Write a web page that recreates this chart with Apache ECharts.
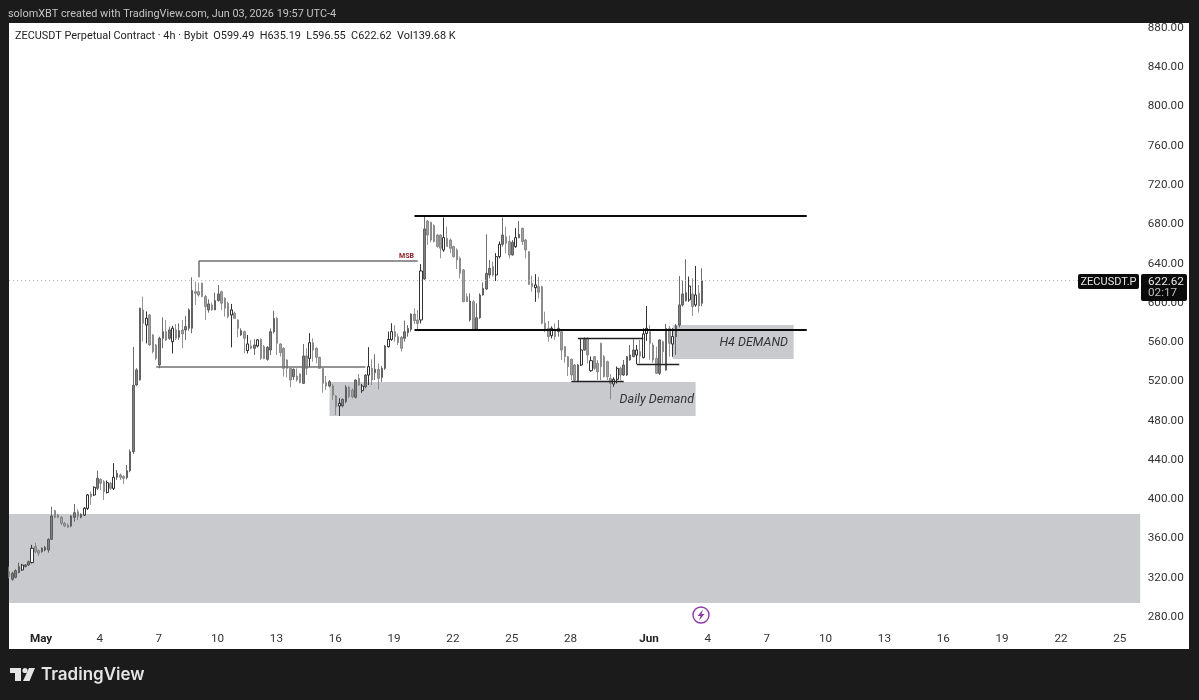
<!DOCTYPE html>
<html><head><meta charset="utf-8">
<style>html,body{margin:0;padding:0;background:#1b1b1b}#c{width:1199px;height:700px}</style>
<script src="https://cdn.jsdelivr.net/npm/echarts@6/dist/echarts.min.js"></script>
</head><body><div id="c"></div>
<script>
const openP=[326.2,318.4,320.4,325.2,332.9,331.3,333,335.4,351.7,347.6,346.6,348.3,348.3,359.1,388.3,384,381.5,375.4,373.7,372.7,381.5,387.3,381.5,383.9,390.7,405.3,404.3,411.1,420.2,417.9,406.7,416.2,411.1,422.3,424.6,423,421.9,429.1,448.4,
516.4,521.5,592.8,577.5,587.7,567.3,557.1,536.8,563.9,570.7,563.9,560.5,572.4,564.9,572.4,572.4,574.1,574.1,611.4,611.4,619.9,606.4,592.8,597.9,592.8,602.3,611.4,604.7,599.6,587.7,589.4,582.6,567.3,570.7,551.4,556.1,553.7,556.1,
562.8,555.4,542.5,552,570.6,584.2,558.1,553.7,541.8,533.3,524.8,525.5,527.5,518,545.9,543.5,559.4,553.7,544.5,533.3,518.7,515.3,515.3,505.1,495,495,499.4,514,511.2,503.8,523.1,515.3,514.6,526.5,533.3,528.9,532.3,524.1,533.3,555.4,562.8,570.6,565.6,564.9,563.9,569.6,573,588.6,582.5,
582.6,624.3,683.4,682,678.7,669.1,669.1,653.9,665.7,664,657.3,653.9,645.4,633.5,606.3,582.6,601.2,573.4,584.9,608,614.1,628.4,636.9,628.4,647.1,659.6,667.4,662.4,648.8,657.3,666.4,675.9,664,652.2,619.9,615.5,616.5,616.5,579.2,574.1,566.6,572.4,570.7,
570.6,555.4,545.2,542.5,536.7,520.7,536.7,552,563.9,530.9,545.2,538.4,558.8,545.2,540.1,523.1,517.3,522.1,533.3,526.5,526.5,541.8,545.2,552,550.3,544.5,568.9,570.6,557.1,543.5,528.2,560.5,531.6,574,558.1,565.6,577.4,
597.9,602.3,617.2,609.1,597.9,609.8,599.49];
const closeP=[321.1,324.5,327.2,331.3,327.9,333,336.4,350,346.6,344.9,350,351,359.1,382.9,381.5,381.5,375.4,372.7,371.4,382.9,386.3,382.2,384.6,390.7,404.3,402.6,412.1,421.3,416.2,407.7,416.8,411.1,422.3,426.3,422.3,421.3,429.1,448.4,516,
531.7,594.5,579.2,584.3,557.1,550.3,543.5,563.9,570.7,562.2,572.4,574.1,563.9,571.7,568.3,575.8,592.8,612.5,609.8,608,606.4,596.2,598.9,592.8,602.3,609.1,599.6,594.5,586,592.8,584.3,574.1,571.7,563.9,558.1,553.7,557.1,562.2,
543.5,543.5,554.7,570.6,584.2,558.8,549.3,533.3,533.3,521.4,532.3,521.4,518.7,545.9,533.3,559.4,552,544.5,533.3,518,515.3,519.7,506.1,494.3,497.7,501.7,514,504.4,504.4,521.4,516.3,510.6,526.5,535,521.4,532.3,523.1,533.3,556,562.8,570.6,565.6,559.4,553.7,570.6,574,588.6,581.9,579.1,
632.5,675.3,669.1,664,662.4,657.3,655.6,666.4,657.3,655.6,647.1,643.7,630.1,601.2,601.2,601.9,572.4,584.9,608,614.8,630.1,635.2,628.4,647.1,659.6,669.1,660.7,648.8,661.7,666.4,669.8,662.4,653.9,618.9,616.5,618.2,610.8,579.2,572.4,565.6,574.1,565.6,574.1,
552,545.2,535,526.5,521.4,536.7,552,562.8,546.9,541.1,533.3,529.9,535,524.8,524.8,518,522.1,533.3,526.5,536.7,545.2,546.9,552,546.9,545.9,568.3,574,558.8,541.8,528.2,562.2,550.3,574,558.8,565.6,576.4,597.9,
609.1,610.4,603,596.2,608,596.9,622.62];
const lowP=[319.4,317,319.4,324.5,327.2,330.6,332,334.7,344.9,342.2,345.5,346.9,345.5,358.5,380.5,380.5,373.7,371.4,370.7,371.4,377.1,378.8,380.5,382.9,389,394.1,403.3,409.4,409.4,399.2,406,409.4,409.4,419.6,419.6,415.5,420.2,427.4,446,
515.4,520.8,560.5,558.8,556.1,548.6,541.8,533.4,553.7,561.2,562.2,548.6,562.2,562.2,553.7,562.2,571.7,569,597.9,606.4,605.7,582.6,590,592.1,592.8,601.3,592.8,586,584.3,554.8,583.3,564.9,566.3,548.6,548.6,552.7,546.9,554.8,
541.8,542.5,541.1,546.9,568.9,546.9,545.2,524.8,524.1,513.9,521.4,519.7,518,517.3,526.5,535,540.1,538.4,533.3,508.5,511.2,513.9,501,485.8,484.8,493.6,497.7,502.7,502.7,502.7,515.3,508.5,512.9,516.3,516.3,521.4,511.9,519.7,531.6,554.7,561.5,560.5,557.1,550.3,560.5,565.6,570.6,578.5,573,
579.2,623.3,659,661.7,661.7,656.2,645.4,652.2,657.3,650.5,646,634.5,625,600.6,601.2,580.9,572.4,572.4,583.6,607.4,613.1,625,626.7,622.3,645.4,657.3,650.5,645.4,648.1,656.2,665.7,659,645.4,618.2,611.4,601.2,604.6,578.2,570,560.5,563.9,562.2,565.6,
541.8,539,525.5,521.4,519.7,519.7,535.7,551.3,538.4,529.9,531.6,521.4,521.4,524.1,521.4,501.7,514.6,518,521.4,525.5,525.5,541.1,544.5,537.7,538.4,543.5,561.5,541.8,539,527.5,526.5,538.4,530.9,545.2,545.2,546.9,575.1,
596.2,601.3,601.3,586.7,596.2,590.1,596.55];
const highP=[331.3,326.2,328.6,335.4,334,334,337.4,353.4,355.7,349,351,352.3,360.1,392.4,389,385,382.9,377,375.4,383.6,395.1,389.7,385.6,391.7,405.3,407.7,412.8,429.1,421.3,419.6,418.9,417.9,436.5,429.7,426.3,424.6,434.8,450.8,555,
533.4,595.1,606.4,591.1,588.7,568.3,558.1,565.6,585.3,582.6,575.8,576.5,578.5,579.2,582.6,586.7,594.5,626,621.6,620.6,620.6,608,603.6,600.2,610.4,618.2,612.5,605.7,601.3,598.9,591.1,583.3,574.1,571.7,567.3,562.2,562.9,562.9,
563.8,557.1,556,574,592,585.9,558.8,554.7,542.5,534,533.3,533.3,528.2,558.1,553.7,568.9,563.9,554.7,545.2,534,525.5,521.4,517.3,506.1,502.7,502.7,516.3,515.3,512.9,522.1,527.5,517.3,527.5,554.7,542.5,547.6,538.4,535.7,557.1,570.6,579.1,577.4,568.9,566.2,581.9,577.4,589.3,594.4,592.7,
639.3,687.8,684.4,682.7,680,669.8,669.8,686.8,677.6,665.7,658.3,655.6,647.1,634.5,609.7,609.7,602.9,599.5,609.7,620.9,669.8,643.7,642,650.5,662.4,686.8,677.6,668.5,664,675.9,683.4,676.6,665,652.8,627.7,629.1,626.7,617.5,591,581.6,575.8,579.2,582.6,
571.7,556,545.9,543.5,537.7,537.7,563.9,564.9,564.9,545.2,545.9,541.8,559.4,546.9,541.1,527.5,524.1,535,535,541.8,545.9,557.1,562.8,557.1,562.2,574,596.8,577.4,559.4,555.4,562.8,561.5,578.5,576.4,574,578.5,627.4,
622.7,644.4,626.7,625,637.6,618.2,635.19];

const barCount=347;
const hollowIdx=[4,7,23,24,26,30,32,42,50,68,73,76,92,101,108,110,116,117,126,133,149,150,155,161,166,175,178,185,186,192,194,195,203,208,210];
const tickIdx=[9,27,45,63,81,99,117,135,153,171,195,213,231,249,267,285,303,321,339];
const tickLabels=['May','4','7','10','13','16','19','22','25','28','Jun','4','7','10','13','16','19','22','25'];
const boldTicks=['May','Jun'];
const lastPrice=622.62;
// zones: [x start index, x end index, upper price, lower price]
const zoneLow=[0,346,384.9,294.3];
const zoneDaily=[98,210,519.4,484.8];
const zoneH4=[203,240,577.5,542.8];
// lines: [x start index, x end index, price]
const strongLines=[[124,244,688.5],[124,244,572.4]];
const thinLines=[[174,194,564.2],[172,188,520.4],[192,205,537.7]];
const greyLines=[[58,125,642.6],[45,109,534.7]];
const msbStem=[58,642.6,626];

const categories=[];
for(let i=0;i<barCount;i++)categories.push('bar'+i);
const candles=openP.map((v,i)=>[v,closeP[i],lowP[i],highP[i]]);
const hollow=candles.map((c,i)=>hollowIdx.includes(i)?c:['-','-','-','-']);
const font='Roboto, Inter, sans-serif';
const seg=(a,b,p,style)=>[{xAxis:a,yAxis:p,lineStyle:style},{xAxis:b,yAxis:p}];
const strong={color:'#0a0a0a',width:2,type:'solid'};
const thin={color:'#222',width:1.4,type:'solid'};
const grey={color:'#6f6f6f',width:1.5,type:'solid'};
const dotted={color:'#b5b5b5',width:1,type:[1,3]};

const chart=echarts.init(document.getElementById('c'),null,{renderer:'canvas'});
chart.setOption({
 animation:false,
 backgroundColor:'#1b1b1b',
 grid:{left:7.5,width:1134.3,top:28,height:589,containLabel:false},
 xAxis:{type:'category',data:categories,boundaryGap:true,axisLine:{show:false},axisTick:{show:false},splitLine:{show:false},
  axisLabel:{margin:16,color:'#333',fontFamily:font,fontSize:11.7,hideOverlap:false,padding:[0,0,0,5],
   interval:(i)=>tickIdx.includes(i),
   formatter:(v,i)=>{const t=tickLabels[tickIdx.indexOf(i)];return boldTicks.includes(t)?'{b|'+t+'}':t;},
   rich:{b:{fontWeight:700,color:'#222',fontFamily:font,fontSize:11.7}}}},
 yAxis:{type:'value',position:'right',min:280,max:880,interval:40,axisLine:{show:false},axisTick:{show:false},splitLine:{show:false},
  axisLabel:{margin:6,color:'#333',fontFamily:font,fontSize:11.7,padding:[8,0,0,0],formatter:v=>v.toFixed(2)}},
 graphic:{elements:[
  {type:'rect',z:-100,silent:true,shape:{x:9,y:23,width:1180,height:626},style:{fill:'#fff'}},
  {type:'text',z:50,style:{x:8,y:14,text:'solomXBT created with TradingView.com, Jun 03, 2026 19:57 UTC-4',fill:'#c4c4c4',font:'10.9px '+font,textVerticalAlign:'middle'}},
  {type:'text',z:50,style:{x:15,y:36,text:'ZECUSDT Perpetual Contract · 4h · Bybit  O599.49  H635.19  L596.55  C622.62  Vol139.68 K',fill:'#222',font:'10.9px '+font,textVerticalAlign:'middle'}},
  {type:'text',z:50,style:{x:788,y:343,text:'H4 DEMAND',fill:'#333',font:'italic 12.5px '+font,textAlign:'right',textVerticalAlign:'middle'}},
  {type:'text',z:50,style:{x:694,y:400,text:'Daily Demand',fill:'#333',font:'italic 12.5px '+font,textAlign:'right',textVerticalAlign:'middle'}},
  {type:'text',z:50,style:{x:399,y:256,text:'MSB',fill:'#8e1f24',font:'bold 7px '+font,textVerticalAlign:'middle'}},
  {type:'rect',z:60,shape:{x:1078,y:274,width:61,height:15,r:2},style:{fill:'#0a0a0a'}},
  {type:'text',z:61,style:{x:1108.5,y:282,text:'ZECUSDT.P',fill:'#e6e6e6',font:'11px '+font,textAlign:'center',textVerticalAlign:'middle'}},
  {type:'rect',z:60,shape:{x:1141,y:274,width:46,height:27,r:2},style:{fill:'#0a0a0a'}},
  {type:'text',z:61,style:{x:1148,y:282,text:'622.62',fill:'#e6e6e6',font:'11.7px '+font,textVerticalAlign:'middle'}},
  {type:'text',z:61,style:{x:1148,y:293,text:'02:17',fill:'#bdbdbd',font:'11.7px '+font,textVerticalAlign:'middle'}},
  {type:'circle',z:50,shape:{cx:701,cy:615,r:8},style:{fill:'#fff',stroke:'#8e3aa8',lineWidth:1.4}},
  {type:'polygon',z:51,shape:{points:[[703,609.5],[697.5,616],[700.5,616],[699,620.5],[704.5,614],[701.5,614]]},style:{fill:'#8e3aa8'}},
  {type:'polygon',z:50,shape:{points:[[10,668],[21,668],[21,681],[15,681],[15,673],[10,673]]},style:{fill:'#e4e4e4'}},
  {type:'circle',z:50,shape:{cx:25,cy:670.5,r:2.6},style:{fill:'#e4e4e4'}},
  {type:'polygon',z:50,shape:{points:[[29,668],[35,668],[29.5,681],[23,681]]},style:{fill:'#e4e4e4'}},
  {type:'text',z:50,style:{x:41,y:675,text:'TradingView',fill:'#e4e4e4',font:'600 17px Inter, sans-serif',textVerticalAlign:'middle'}}
 ]},
 series:[{
  type:'candlestick',name:'ZECUSDT',data:candles,barWidth:2,clip:false,z:3,
  itemStyle:{color:'#808080',color0:'#a0a0a0',borderColor:'#4a4a4a',borderColor0:'#7a7a7a',borderWidth:0.8},
  markArea:{silent:true,z:-1,itemStyle:{color:'#c9cacd',opacity:1},label:{show:false},data:[
   [{xAxis:zoneLow[0],yAxis:zoneLow[2]},{xAxis:zoneLow[1],yAxis:zoneLow[3]}],
   [{xAxis:zoneDaily[0],yAxis:zoneDaily[2]},{xAxis:zoneDaily[1],yAxis:zoneDaily[3]}],
   [{xAxis:zoneH4[0],yAxis:zoneH4[2]},{xAxis:zoneH4[1],yAxis:zoneH4[3]}]
  ]},
  markLine:{silent:true,symbol:'none',animation:false,label:{show:false},data:[
   seg(0,346,lastPrice,dotted),
   ...strongLines.map(l=>seg(l[0],l[1],l[2],strong)),
   ...thinLines.map(l=>seg(l[0],l[1],l[2],thin)),
   ...greyLines.map(l=>seg(l[0],l[1],l[2],grey)),
   [{xAxis:msbStem[0],yAxis:msbStem[1],lineStyle:grey},{xAxis:msbStem[0],yAxis:msbStem[2]}]
  ]}
 },{
  type:'candlestick',name:'hollow',data:hollow,barWidth:2.6,clip:false,z:4,
  itemStyle:{color:'#fff',color0:'#fff',borderColor:'#333',borderColor0:'#333',borderWidth:1}
 }]
});
</script></body></html>
